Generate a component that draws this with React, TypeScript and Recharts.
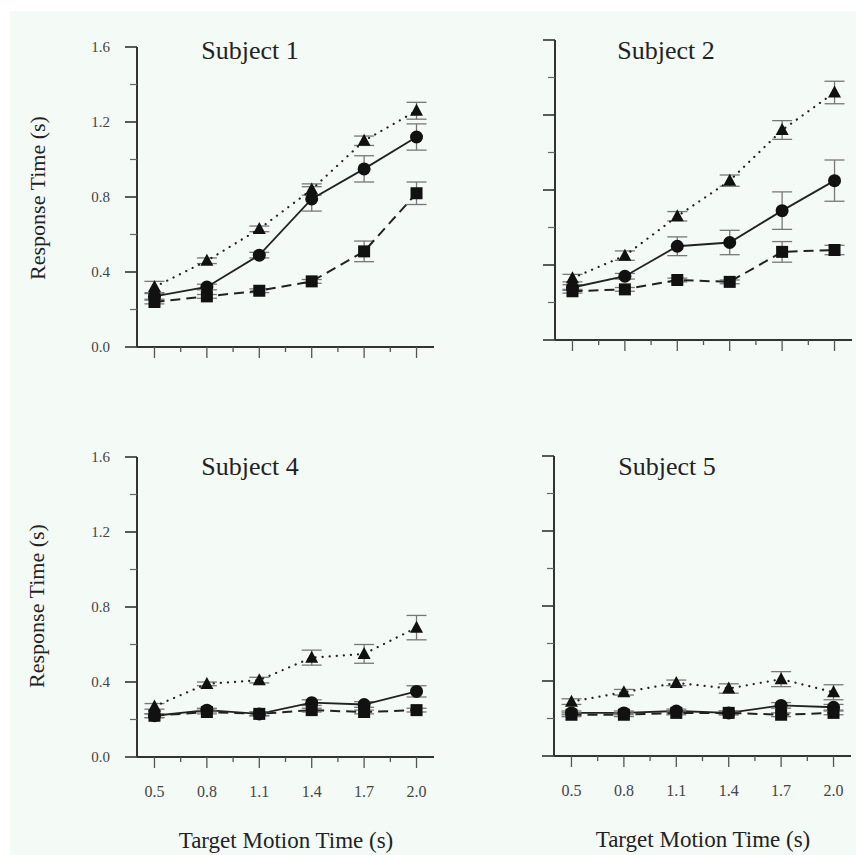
import { ErrorBar, Line, LineChart, XAxis, YAxis } from 'recharts'

const motionTimes = [0.5, 0.8, 1.1, 1.4, 1.7, 2.0]
const xTicks = [0.5, 0.65, 0.8, 0.95, 1.1, 1.25, 1.4, 1.55, 1.7, 1.85, 2.0]
const xTickLabels = ['0.5', '0.8', '1.1', '1.4', '1.7', '2.0']
const yTicks = [0, 0.2, 0.4, 0.6, 0.8, 1.0, 1.2, 1.4, 1.6]
const yTickLabels = ['0.0', '0.4', '0.8', '1.2', '1.6']

// Subject 1
const s1Tri = [0.32, 0.46, 0.63, 0.84, 1.1, 1.26]
const s1TriErr = [0.03, 0.015, 0.015, 0.03, 0.025, 0.045]
const s1Circ = [0.27, 0.32, 0.49, 0.79, 0.95, 1.12]
const s1CircErr = [0.015, 0.015, 0.015, 0.065, 0.07, 0.07]
const s1Sq = [0.24, 0.27, 0.3, 0.35, 0.51, 0.82]
const s1SqErr = [0.01, 0.01, 0.01, 0.01, 0.055, 0.06]

// Subject 2
const s2Tri = [0.33, 0.45, 0.66, 0.85, 1.12, 1.32]
const s2TriErr = [0.02, 0.025, 0.025, 0.03, 0.05, 0.06]
const s2Circ = [0.28, 0.34, 0.5, 0.52, 0.69, 0.85]
const s2CircErr = [0.015, 0.015, 0.05, 0.065, 0.1, 0.11]
const s2Sq = [0.26, 0.27, 0.32, 0.31, 0.47, 0.48]
const s2SqErr = [0.01, 0.01, 0.01, 0.01, 0.055, 0.025]

// Subject 4
const s4Tri = [0.27, 0.39, 0.41, 0.53, 0.55, 0.69]
const s4TriErr = [0.015, 0.01, 0.015, 0.04, 0.05, 0.065]
const s4Circ = [0.22, 0.25, 0.23, 0.29, 0.28, 0.35]
const s4CircErr = [0.01, 0.01, 0.01, 0.015, 0.015, 0.03]
const s4Sq = [0.22, 0.24, 0.23, 0.25, 0.24, 0.25]
const s4SqErr = [0.01, 0.01, 0.01, 0.01, 0.01, 0.01]

// Subject 5
const s5Tri = [0.29, 0.34, 0.39, 0.36, 0.41, 0.34]
const s5TriErr = [0.015, 0.015, 0.015, 0.025, 0.04, 0.04]
const s5Circ = [0.23, 0.23, 0.24, 0.23, 0.27, 0.26]
const s5CircErr = [0.01, 0.01, 0.01, 0.01, 0.015, 0.015]
const s5Sq = [0.22, 0.22, 0.23, 0.23, 0.22, 0.23]
const s5SqErr = [0.01, 0.01, 0.01, 0.01, 0.01, 0.01]

const SERIF = "'Liberation Serif', 'Times New Roman', serif"
const PLOT_W = 297
const PLOT_H = 300
const AXIS_W = 130

const isMajorX = (v: number) => Math.abs((v - 0.5) / 0.3 - Math.round((v - 0.5) / 0.3)) < 1e-6
const isMajorY = (v: number) => Math.abs(v / 0.4 - Math.round(v / 0.4)) < 1e-6

function Triangle({ cx, cy }: any) {
  if (cx == null || cy == null) return null
  return <polygon points={`${cx},${cy - 7} ${cx - 6.5},${cy + 5} ${cx + 6.5},${cy + 5}`} fill="#111" />
}

function Circle({ cx, cy }: any) {
  if (cx == null || cy == null) return null
  return <circle cx={cx} cy={cy} r={6.5} fill="#111" />
}

function Square({ cx, cy }: any) {
  if (cx == null || cy == null) return null
  return <rect x={cx - 6} y={cy - 6} width={12} height={12} fill="#111" />
}

interface PanelProps {
  left: number
  top: number
  tri: number[]
  triErr: number[]
  circ: number[]
  circErr: number[]
  sq: number[]
  sqErr: number[]
  yLabels: boolean
  xLabels: boolean
}

function Panel({ left, top, tri, triErr, circ, circErr, sq, sqErr, yLabels, xLabels }: PanelProps) {
  const rows = motionTimes.map((x, i) => ({
    x,
    tri: tri[i],
    triErr: triErr[i],
    circ: circ[i],
    circErr: circErr[i],
    sq: sq[i],
    sqErr: sqErr[i],
  }))

  const xTick = (p: any) => {
    const v = p.payload.value
    const major = isMajorX(v)
    const idx = motionTimes.findIndex((m) => Math.abs(m - v) < 1e-6)
    return (
      <g key={`xt-${v}`}>
        <line x1={p.x} x2={p.x} y1={p.y} y2={p.y + (major ? 11 : 5)} stroke="#555" strokeWidth={1.3} />
        {xLabels && major && (
          <text x={p.x} y={p.y + 40} textAnchor="middle" fontFamily={SERIF} fontSize={16} fill="#444">
            {xTickLabels[idx]}
          </text>
        )}
      </g>
    )
  }

  const yTick = (p: any) => {
    const v = p.payload.value
    const major = isMajorY(v)
    const idx = Math.round(v / 0.4)
    return (
      <g key={`yt-${v}`}>
        <line x1={p.x - (major ? 12 : 7)} x2={p.x} y1={p.y} y2={p.y} stroke={major ? '#333' : '#666'} strokeWidth={major ? 1.6 : 1.2} />
        {yLabels && major && (
          <text x={p.x - 27} y={p.y + 5} textAnchor="end" fontFamily={SERIF} fontSize={15} fill="#444">
            {yTickLabels[idx]}
          </text>
        )}
      </g>
    )
  }

  return (
    <div style={{ position: 'absolute', left: left - AXIS_W, top: top - 30 }}>
      <LineChart
        width={AXIS_W + PLOT_W + 8}
        height={30 + PLOT_H + 50}
        data={rows}
        margin={{ top: 30, right: 8, bottom: 0, left: 0 }}
      >
        <XAxis
          type="number"
          dataKey="x"
          domain={[0.4, 2.1]}
          ticks={xTicks}
          interval={0}
          height={50}
          tickSize={0}
          tickMargin={0}
          tickLine={false}
          axisLine={{ stroke: '#333', strokeWidth: 2 }}
          tick={xTick}
          allowDataOverflow
        />
        <YAxis
          type="number"
          domain={[0, 1.6]}
          ticks={yTicks}
          interval={0}
          width={AXIS_W}
          tickSize={0}
          tickMargin={0}
          tickLine={false}
          axisLine={{ stroke: '#333', strokeWidth: 2 }}
          tick={yTick}
          allowDataOverflow
        />
        <Line
          dataKey="tri"
          type="linear"
          stroke="#222"
          strokeWidth={2.2}
          strokeDasharray="0.1 7"
          strokeLinecap="round"
          dot={(p: any) => <Triangle key={`tri-${p.index}`} cx={p.cx} cy={p.cy} />}
          activeDot={false}
          isAnimationActive={false}
        >
          <ErrorBar dataKey="triErr" direction="y" width={10} stroke="#777" strokeWidth={1.3} />
        </Line>
        <Line
          dataKey="circ"
          type="linear"
          stroke="#222"
          strokeWidth={1.8}
          dot={(p: any) => <Circle key={`circ-${p.index}`} cx={p.cx} cy={p.cy} />}
          activeDot={false}
          isAnimationActive={false}
        >
          <ErrorBar dataKey="circErr" direction="y" width={10} stroke="#777" strokeWidth={1.3} />
        </Line>
        <Line
          dataKey="sq"
          type="linear"
          stroke="#222"
          strokeWidth={2}
          strokeDasharray="10 6"
          dot={(p: any) => <Square key={`sq-${p.index}`} cx={p.cx} cy={p.cy} />}
          activeDot={false}
          isAnimationActive={false}
        >
          <ErrorBar dataKey="sqErr" direction="y" width={10} stroke="#777" strokeWidth={1.3} />
        </Line>
      </LineChart>
    </div>
  )
}

export default function App() {
  return (
    <div style={{ position: 'absolute', left: 0, top: 0, width: 856, height: 855, overflow: 'hidden', background: '#fff' }}>
      <svg width={856} height={855} style={{ position: 'absolute', left: 0, top: 0 }}>
        <rect x={10} y={11} width={846} height={844} fill="#f4faf6" />
        <g fontFamily={SERIF} fill="#222">
          <text x={250} y={59} textAnchor="middle" fontSize={26}>Subject 1</text>
          <text x={666} y={59} textAnchor="middle" fontSize={26}>Subject 2</text>
          <text x={250} y={475} textAnchor="middle" fontSize={26}>Subject 4</text>
          <text x={667} y={475} textAnchor="middle" fontSize={26}>Subject 5</text>
          <text x={45} y={198} textAnchor="middle" fontSize={22} transform="rotate(-90 45 198)">Response Time (s)</text>
          <text x={44} y={606} textAnchor="middle" fontSize={22} transform="rotate(-90 44 606)">Response Time (s)</text>
          <text x={286} y={848} textAnchor="middle" fontSize={23}>Target Motion Time (s)</text>
          <text x={703} y={847} textAnchor="middle" fontSize={23}>Target Motion Time (s)</text>
        </g>
      </svg>
      <Panel left={137} top={47} tri={s1Tri} triErr={s1TriErr} circ={s1Circ} circErr={s1CircErr} sq={s1Sq} sqErr={s1SqErr} yLabels xLabels={false} />
      <Panel left={555} top={40} tri={s2Tri} triErr={s2TriErr} circ={s2Circ} circErr={s2CircErr} sq={s2Sq} sqErr={s2SqErr} yLabels={false} xLabels={false} />
      <Panel left={137} top={457} tri={s4Tri} triErr={s4TriErr} circ={s4Circ} circErr={s4CircErr} sq={s4Sq} sqErr={s4SqErr} yLabels xLabels />
      <Panel left={554} top={456} tri={s5Tri} triErr={s5TriErr} circ={s5Circ} circErr={s5CircErr} sq={s5Sq} sqErr={s5SqErr} yLabels={false} xLabels />
    </div>
  )
}
